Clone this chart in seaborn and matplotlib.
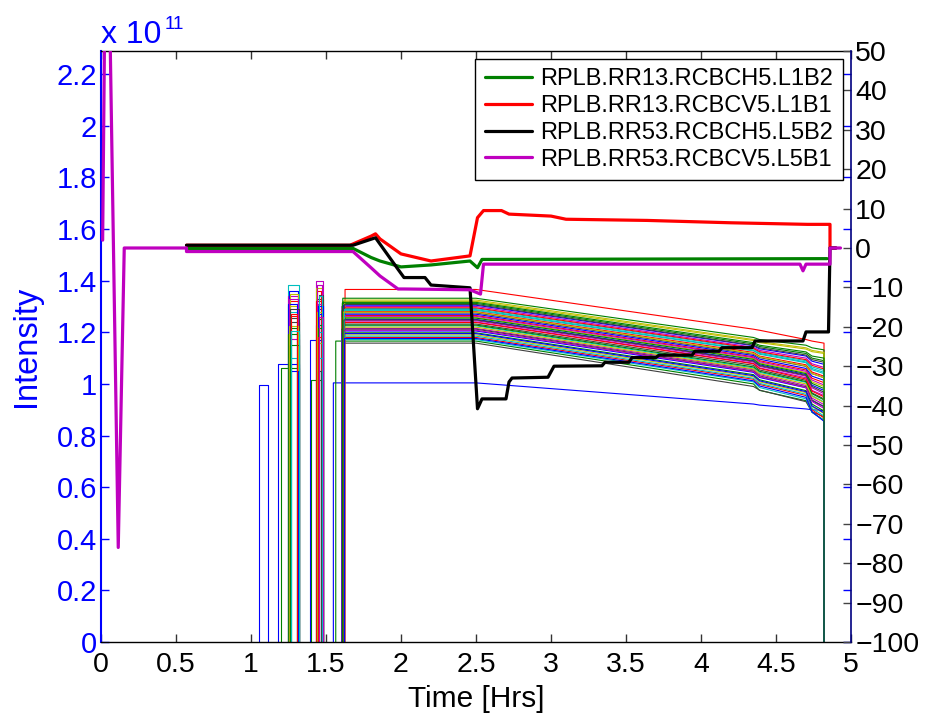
import numpy as np
import pandas as pd
import matplotlib
matplotlib.use("Agg")
import matplotlib.pyplot as plt
from matplotlib.lines import Line2D
import seaborn as sns

# ---------------- data ----------------
# bunch intensities (units of 1e11) -- single early pulses
pulse_on = [1.055, 1.180, 1.200, 1.393, 1.400]
pulse_off = [1.115, 1.320, 1.320, 1.482, 1.482]
pulse_level = [0.995, 1.076, 1.060, 1.172, 1.017]
pulse_colors = ["#0000ff", "#0000ff", "#008000", "#0000ff", "#008000"]

# first injected-then-dumped train
g1_on = [1.245, 1.247, 1.249, 1.251, 1.253, 1.255, 1.257, 1.259, 1.261, 1.263, 1.265,
         1.246, 1.248, 1.250, 1.252, 1.254, 1.256, 1.258, 1.260, 1.262, 1.264, 1.268]
g1_off = [1.318, 1.312, 1.306, 1.320, 1.314, 1.308, 1.316, 1.310, 1.322, 1.312, 1.318,
          1.308, 1.320, 1.314, 1.306, 1.316, 1.310, 1.322, 1.312, 1.318, 1.308, 1.320]
g1_level = [1.383, 1.340, 1.300, 1.255, 1.360, 1.215, 1.320, 1.280, 1.175, 1.350, 1.240,
            1.310, 1.195, 1.265, 1.100, 1.330, 1.225, 1.290, 1.050, 1.150, 1.270, 1.205]

# second injected-then-dumped train
g2_on = [1.433, 1.435, 1.437, 1.439, 1.441, 1.443, 1.445, 1.447, 1.449, 1.451, 1.453,
         1.434, 1.436, 1.438, 1.440, 1.442, 1.444, 1.446, 1.448, 1.450, 1.452, 1.455]
g2_off = [1.478, 1.472, 1.482, 1.475, 1.480, 1.470, 1.476, 1.482, 1.473, 1.479, 1.471,
          1.481, 1.474, 1.477, 1.472, 1.482, 1.470, 1.478, 1.475, 1.480, 1.473, 1.482]
g2_level = [1.400, 1.372, 1.330, 1.290, 1.250, 1.360, 1.200, 1.310, 1.160, 1.345, 1.270,
            1.230, 1.320, 1.100, 1.385, 1.280, 1.050, 1.300, 1.215, 1.180, 1.340, 1.260]

# final physics fill: injection time, flat level, then values at breakpoints
final_on = [1.549, 1.565, 1.627, 1.606, 1.610, 1.615, 1.620, 1.608, 1.612, 1.618, 1.622,
            1.606, 1.611, 1.616, 1.621, 1.609, 1.613, 1.619, 1.624, 1.607, 1.612, 1.617,
            1.623, 1.608, 1.614, 1.620, 1.625, 1.606, 1.610, 1.615, 1.621, 1.609, 1.613,
            1.618, 1.622, 1.607, 1.611, 1.616, 1.623, 1.608, 1.614, 1.619, 1.624, 1.610]
final_start = [1.004, 1.166, 1.366, 1.285, 1.240, 1.320, 1.158, 1.205, 1.332, 1.265, 1.225,
               1.300, 1.190, 1.275, 1.250, 1.312, 1.180, 1.292, 1.215, 1.258, 1.232, 1.305,
               1.198, 1.280, 1.172, 1.245, 1.325, 1.212, 1.270, 1.228, 1.295, 1.185, 1.262,
               1.220, 1.308, 1.195, 1.255, 1.238, 1.288, 1.208, 1.278, 1.248, 1.176, 1.316]
final_435 = [0.922, 1.000, 1.212, 1.128, 1.080, 1.168, 0.990, 1.045, 1.180, 1.105, 1.062,
             1.142, 1.028, 1.115, 1.090, 1.155, 1.018, 1.135, 1.055, 1.098, 1.072, 1.148,
             1.036, 1.122, 1.008, 1.085, 1.172, 1.050, 1.110, 1.066, 1.138, 1.022, 1.102,
             1.058, 1.150, 1.032, 1.095, 1.078, 1.130, 1.048, 1.118, 1.088, 1.012, 1.160]
final_439 = [0.918, 0.975, 1.208, 1.115, 1.062, 1.160, 0.976, 1.025, 1.172, 1.090, 1.045,
             1.130, 1.008, 1.102, 1.074, 1.145, 0.998, 1.122, 1.036, 1.082, 1.054, 1.136,
             1.016, 1.108, 0.986, 1.068, 1.164, 1.031, 1.096, 1.049, 1.125, 1.002, 1.086,
             1.040, 1.140, 1.012, 1.078, 1.060, 1.118, 1.028, 1.105, 1.071, 0.992, 1.150]
final_470 = [0.903, 0.935, 1.172, 1.082, 1.024, 1.135, 0.931, 0.985, 1.150, 1.054, 1.006,
             1.100, 0.966, 1.068, 1.036, 1.118, 0.955, 1.090, 0.994, 1.044, 1.014, 1.108,
             0.974, 1.074, 0.942, 1.030, 1.140, 0.989, 1.060, 1.009, 1.094, 0.960, 1.049,
             1.000, 1.112, 0.970, 1.040, 1.019, 1.085, 0.986, 1.070, 1.033, 0.948, 1.124]
final_474 = [0.900, 0.890, 1.166, 1.055, 0.975, 1.125, 0.892, 0.935, 1.140, 1.022, 0.955,
             1.078, 0.912, 1.040, 0.995, 1.100, 0.900, 1.066, 0.945, 1.008, 0.965, 1.088,
             0.922, 1.046, 0.890, 0.985, 1.130, 0.938, 1.030, 0.962, 1.072, 0.905, 1.015,
             0.952, 1.094, 0.915, 1.002, 0.972, 1.060, 0.932, 1.040, 0.990, 0.892, 1.108]
final_482 = [0.897, 0.860, 1.158, 1.040, 0.955, 1.118, 0.873, 0.912, 1.132, 1.005, 0.930,
             1.064, 0.885, 1.024, 0.975, 1.090, 0.868, 1.052, 0.920, 0.990, 0.942, 1.076,
             0.895, 1.030, 0.858, 0.962, 1.122, 0.912, 1.014, 0.938, 1.058, 0.876, 0.996,
             0.928, 1.084, 0.888, 0.982, 0.950, 1.045, 0.905, 1.024, 0.968, 0.855, 1.100]
final_break_t = [2.50, 4.35, 4.39, 4.70, 4.74, 4.82]
dump_t = 4.82

# corrector magnet currents (right axis, A)
mag_names = ["RPLB.RR13.RCBCH5.L1B2", "RPLB.RR13.RCBCV5.L1B1",
             "RPLB.RR53.RCBCH5.L5B2", "RPLB.RR53.RCBCV5.L5B1"]
green_t = [0.57, 1.68, 1.80, 1.86, 2.00, 2.20, 2.46, 2.51, 2.54, 4.84]
green_v = [-0.1, -0.1, -2.4, -3.3, -4.8, -4.3, -3.3, -5.0, -2.9, -2.7]
red_t = [0.57, 1.66, 1.80, 1.83, 1.86, 2.00, 2.20, 2.46, 2.51, 2.55, 2.67, 2.72,
         3.00, 3.10, 3.64, 4.20, 4.71, 4.86, 4.86, 4.90]
red_v = [0.7, 0.7, 3.0, 3.6, 2.3, -1.5, -3.3, -2.0, 7.7, 9.5, 9.5, 8.6,
         8.1, 7.3, 7.0, 6.4, 6.0, 6.0, 0.0, 0.0]
black_t = [0.57, 1.68, 1.83, 1.86, 1.98, 2.02, 2.16, 2.20, 2.46, 2.51, 2.54, 2.70,
           2.72, 2.74, 2.98, 3.02, 3.34, 3.36, 3.52, 3.54, 3.70, 3.72, 3.94, 3.96,
           4.12, 4.14, 4.34, 4.36, 4.68, 4.70, 4.85, 4.86, 4.90]
black_v = [0.7, 0.7, 2.6, 1.0, -5.4, -7.5, -7.5, -9.4, -10.1, -40.8, -38.3, -38.3,
           -34.0, -33.0, -32.8, -30.0, -29.9, -29.0, -29.0, -27.8, -27.8, -27.2, -27.2, -26.2,
           -26.2, -25.3, -25.3, -23.6, -23.6, -21.3, -21.3, 0.0, 0.0]
magenta_t = [0.011, 0.025, 0.058, 0.115, 0.155, 0.57, 0.57, 1.68, 1.80, 1.86, 1.98,
             2.02, 2.46, 2.53, 2.55, 4.66, 4.68, 4.70, 4.86, 4.86, 4.93]
magenta_v = [2.0, 60.0, 60.0, -76.0, 0.0, 0.0, -0.9, -0.9, -5.0, -7.1, -10.4,
             -10.4, -10.6, -11.7, -4.1, -4.1, -5.8, -4.1, -4.1, 0.0, 0.0]

x_ticks = [0, 0.5, 1, 1.5, 2, 2.5, 3, 3.5, 4, 4.5, 5]
left_ticks = [0, 0.2, 0.4, 0.6, 0.8, 1, 1.2, 1.4, 1.6, 1.8, 2, 2.2]
right_ticks = [-100, -90, -80, -70, -60, -50, -40, -30, -20, -10, 0, 10, 20, 30, 40, 50]

# ---------------- style ----------------
cycle = ["#0000ff", "#008000", "#ff0000", "#00bfbf", "#bf00bf", "#bfbf00", "#404040"]
mag_colors = ["#008000", "#ff0000", "#000000", "#bf00bf"]

sns.set_style("white")
plt.rcParams["font.family"] = ["Liberation Sans", "DejaVu Sans"]
plt.rcParams["axes.unicode_minus"] = True
plt.rcParams["text.color"] = "black"

# ---------------- build bunch table ----------------
rows = []
palette = {}


def add_line(name, ts, vs, color):
    for t, v in zip(ts, vs):
        rows.append((name, t, v))
    palette[name] = color


for i in range(len(pulse_on)):
    add_line(f"p{i}", [pulse_on[i], pulse_on[i], pulse_off[i], pulse_off[i]],
             [0, pulse_level[i], pulse_level[i], 0], pulse_colors[i])
for i in range(len(g1_on)):
    add_line(f"a{i}", [g1_on[i], g1_on[i], g1_off[i], g1_off[i]],
             [0, g1_level[i], g1_level[i], 0], cycle[(i + 3) % 7])
for i in range(len(g2_on)):
    add_line(f"b{i}", [g2_on[i], g2_on[i], g2_off[i], g2_off[i]],
             [0, g2_level[i], g2_level[i], 0], cycle[(i + 4) % 7])
for i in range(len(final_on)):
    ts = [final_on[i], final_on[i]] + final_break_t + [dump_t]
    vs = [0, final_start[i], final_start[i], final_435[i], final_439[i],
          final_470[i], final_474[i], final_482[i], 0]
    add_line(f"f{i}", ts, vs, cycle[i % 7])

bunch_df = pd.DataFrame(rows, columns=["line", "t", "I"])

mag_rows = []
for name, ts, vs in zip(mag_names, [green_t, red_t, black_t, magenta_t],
                        [green_v, red_v, black_v, magenta_v]):
    for t, v in zip(ts, vs):
        mag_rows.append((name, t, v))
mag_df = pd.DataFrame(mag_rows, columns=["magnet", "t", "A"])

# ---------------- figure ----------------
fig = plt.figure(figsize=(9.33, 7.18), dpi=100)
ax = fig.add_axes([101 / 933, 1 - 642 / 718, 750 / 933, 591 / 718])

sns.lineplot(data=bunch_df, x="t", y="I", hue="line", palette=palette,
             estimator=None, sort=False, legend=False, linewidth=0.8, ax=ax)

ax2 = ax.twinx()
sns.lineplot(data=mag_df, x="t", y="A", hue="magnet", hue_order=mag_names,
             palette=dict(zip(mag_names, mag_colors)), estimator=None, sort=False,
             legend=False, linewidth=2.3, ax=ax2)

ax.set_xlim(0, 5)
ax.set_ylim(0, 2.29)
ax2.set_ylim(-100, 50)

ax.set_xticks(x_ticks)
ax.set_xticklabels([f"{v:g}" for v in x_ticks])
ax.set_yticks(left_ticks)
ax.set_yticklabels([f"{v:g}" for v in left_ticks])
ax2.set_yticks(right_ticks)
ax2.set_yticklabels([f"{v:g}".replace("-", "\u2212") for v in right_ticks])

ax.tick_params(axis="x", direction="in", length=6, width=1, top=True, bottom=True,
               color="#333333", labelcolor="black", labelsize=20.5, pad=7)
ax.tick_params(axis="y", direction="in", length=6, width=1, left=True, right=True,
               color="#0000ff", labelcolor="#0000ff", labelsize=21, pad=3)
ax2.tick_params(axis="y", direction="in", length=6, width=1, right=True, left=False,
                color="#444444", labelcolor="black", labelsize=20.5, pad=3)

for s in ["top", "bottom"]:
    ax.spines[s].set_color("black")
    ax.spines[s].set_linewidth(1.0)
ax.spines["left"].set_color("#0000ff")
ax.spines["left"].set_linewidth(1.5)
ax.spines["right"].set_visible(False)
for s in ["left", "top", "bottom"]:
    ax2.spines[s].set_visible(False)
ax2.spines["right"].set_color("#000080")
ax2.spines["right"].set_linewidth(1.2)

ax.set_xlabel("Time [Hrs]", fontsize=21.5, color="black", labelpad=5)
ax.set_ylabel("Intensity", fontsize=23.5, color="#0000ff", labelpad=10)
ax2.set_ylabel("")

ax.text(0.0, 1.014, "x 10", transform=ax.transAxes, color="#0000ff",
        fontsize=23, ha="left", va="baseline")
ax.text(0.0855, 1.038, "11", transform=ax.transAxes, color="#0000ff",
        fontsize=13.5, ha="left", va="baseline")

handles = [Line2D([], [], color=c, lw=2.3) for c in mag_colors]
leg = ax2.legend(handles, mag_names, loc="upper right",
                 bbox_to_anchor=(0.989, 0.9865), borderaxespad=0,
                 fontsize=17, frameon=True, fancybox=False, framealpha=1,
                 edgecolor="black", handlelength=2.0, handletextpad=0.35,
                 labelspacing=0.2, borderpad=0.4, labelcolor="black")
leg.get_frame().set_linewidth(1.0)

fig.savefig("out.png", dpi=100)
